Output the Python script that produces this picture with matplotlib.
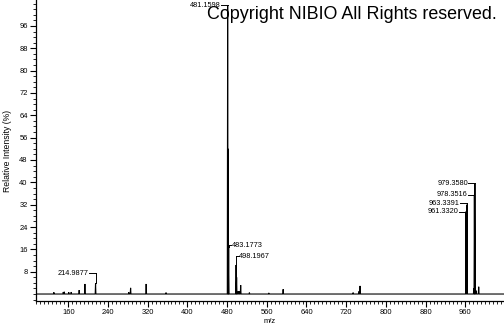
import matplotlib
matplotlib.use("Agg")
import matplotlib.pyplot as plt
from matplotlib.ticker import MultipleLocator

# ---- data (m/z, relative intensity %) ----
peak_mz = [131.0, 150.0, 152.0, 161.0, 166.0, 182.0, 193.5, 214.9877,
           282.0, 285.6, 317.0, 357.0,
           481.1598, 482.16, 483.1773, 498.1967, 499.2, 502.5, 504.0, 507.4,
           525.0, 564.0, 593.0, 734.0, 746.0, 748.0,
           961.3320, 963.3391, 977.1, 978.3516, 979.3580, 982.0, 987.0]
peak_int = [0.6, 0.7, 0.8, 0.6, 0.7, 1.4, 3.6, 3.8,
            0.6, 2.2, 3.6, 0.5,
            103.5, 52.0, 17.0, 10.4, 6.0, 1.0, 1.0, 3.2,
            0.5, 0.4, 1.7, 0.5, 1.0, 2.9,
            29.5, 32.0, 2.0, 35.5, 39.7, 1.2, 2.6]

label_mz = [214.9877, 481.1598, 483.1773, 498.1967, 961.3320, 963.3391, 978.3516, 979.3580]
label_text = ["214.9877", "481.1598", "483.1773", "498.1967", "961.3320", "963.3391", "978.3516", "979.3580"]
# label layout (height where label sits, side of the peak)
label_y = [7.5, 103.5, 17.5, 13.5, 29.5, 32.5, 35.5, 39.7]
label_side = ["left", "left", "right", "right", "left", "left", "left", "left"]

xticks = [160, 240, 320, 400, 480, 560, 640, 720, 800, 880, 960]
yticks = [8, 16, 24, 32, 40, 48, 56, 64, 72, 80, 88, 96]

plt.rcParams['font.family'] = ['Liberation Sans', 'DejaVu Sans']

fig = plt.figure(figsize=(5.04, 3.25), dpi=100)
ax = fig.add_axes([36 / 504, 24 / 325, 1 - 36 / 504, 1 - 24 / 325])
ax.set_xlim(95, 1038)
ax.set_ylim(-2.5, 105.3)

# build stick-like profile
hw = 0.7
xs, ys = [95], [0]
for m, h in sorted(zip(peak_mz, peak_int)):
    xs += [m - hw, m, m + hw]
    ys += [0, h, 0]
xs.append(1038)
ys.append(0)
ax.plot(xs, ys, color='black', lw=0.8, solid_joinstyle='miter')

# labels with bracket connectors
px_per_unit_x = 0.496
gap = 6.5 / px_per_unit_x  # horizontal connector length in data units
for m, txt, ly, side in zip(label_mz, label_text, label_y, label_side):
    h = peak_int[peak_mz.index(m)]
    if side == "left":
        x0 = m - gap
        tx, ha = x0 - 1.0, 'right'
    else:
        x0 = m + gap * 0.4
        tx, ha = x0 + 1.0, 'left'
    ax.plot([x0, m], [ly, ly], color='black', lw=0.7)
    if ly > h:
        ax.plot([m, m], [ly, h], color='black', lw=0.7)
    ax.text(tx, ly, txt, fontsize=5.3, ha=ha, va='center')

for s in ['top', 'right']:
    ax.spines[s].set_visible(False)
ax.spines['left'].set_linewidth(0.9)
ax.spines['bottom'].set_linewidth(0.9)

ax.set_xticks(xticks)
ax.set_yticks(yticks)
ax.xaxis.set_minor_locator(MultipleLocator(8))
ax.yaxis.set_minor_locator(MultipleLocator(2))
ax.tick_params(axis='both', which='major', length=4, width=0.8, labelsize=5.4, pad=2)
ax.tick_params(axis='both', which='minor', length=2, width=0.6)

ax.set_xlabel("m/z", fontsize=5.5, labelpad=1)
ax.set_ylabel("Relative Intensity (%)", fontsize=6.2, labelpad=5)

fig.text(207 / 504, 1 - 19 / 325, "Copyright NIBIO All Rights reserved.", fontsize=12.9,
         ha='left', va='baseline', color='black')

fig.savefig("out.png", dpi=100)
